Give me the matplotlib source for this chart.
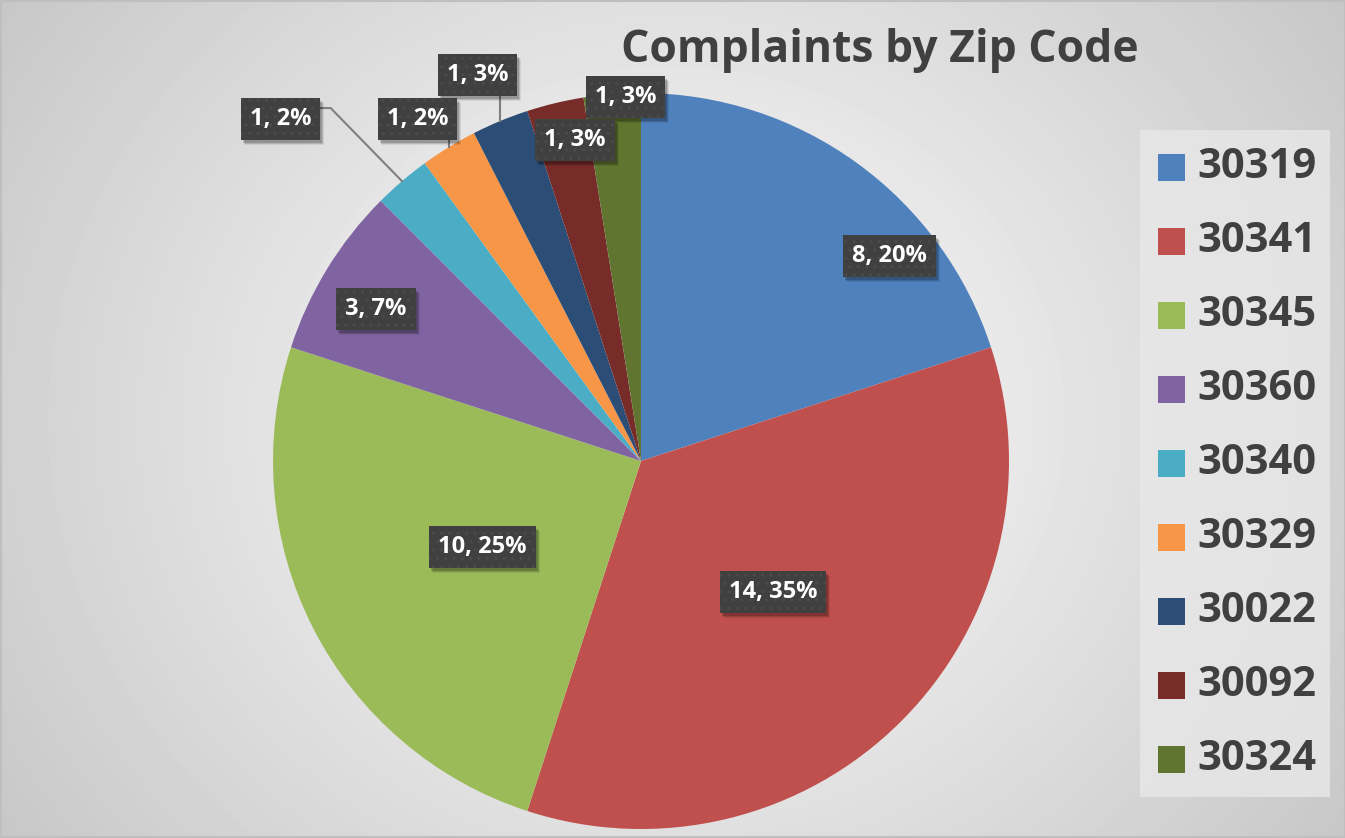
import numpy as np
import matplotlib.pyplot as plt
from matplotlib.patches import Rectangle

# data
zips = ["30319", "30341", "30345", "30360", "30340", "30329", "30022", "30092", "30324"]
counts = [8, 14, 10, 3, 1, 1, 1, 1, 1]
pct_labels = ["20%", "35%", "25%", "7%", "2%", "2%", "3%", "3%", "3%"]
colors = ["#4F81BD", "#C0504D", "#9BBB59", "#8064A2", "#4BACC6",
          "#F79646", "#2C4D75", "#772C2A", "#5F7530"]

# label layout: polar position around the pie centre (deg, fraction of radius)
label_ang = [39.5, -44.8, -151.6, 150.2, 136.5, 123.2, 112.9, 101.6, 92.4]
label_rad = [0.875, 0.505, 0.49, 0.83, 1.35, 1.11, 1.14, 0.89, 0.99]
leader = [None, None, None, None, "side", "below", "below", None, None]

W, H = 1345, 838
FONT = ["Open Sans", "DejaVu Sans"]
plt.rcParams["font.family"] = FONT

fig = plt.figure(figsize=(W / 100, H / 100), dpi=100)
ax = fig.add_axes([0, 0, 1, 1])

# radial grey background
yy, xx = np.mgrid[0:H, 0:W]
cx, cy = 672, 419
r = np.sqrt(((xx - cx) / 1.0) ** 2 + ((yy - cy) / 0.9) ** 2)
shade = 1 - 0.22 * (r / r.max())
ax.imshow(shade, cmap="gray", vmin=0, vmax=1, extent=(0, W, 0, H),
          origin="upper", zorder=0, interpolation="bilinear")

# pie
center = (641, H - 461)
R = 368
wedges, _ = ax.pie(counts, colors=colors, startangle=90, counterclock=False,
                   radius=R, center=center, frame=True,
                   wedgeprops=dict(linewidth=0))
for w in wedges:
    w.set_zorder(2)

ax.set_xlim(0, W)
ax.set_ylim(0, H)
ax.set_aspect("equal")
ax.axis("off")

# data labels
labels = []
for i, w in enumerate(wedges):
    a = np.radians(label_ang[i])
    lx = center[0] + label_rad[i] * R * np.cos(a)
    ly = center[1] + label_rad[i] * R * np.sin(a)
    txt = f"{counts[i]}, {pct_labels[i]}"

    mid = np.radians((w.theta1 + w.theta2) / 2)
    mx = center[0] + R * np.cos(mid)
    my = center[1] + R * np.sin(mid)
    if leader[i] == "side":
        ax.plot([lx + 40, lx + 50, mx], [ly + 11, ly + 11, my],
                color="#7f7f7f", lw=1.5, zorder=3)
    elif leader[i] == "below":
        ax.plot([mx, mx], [ly - 20, my], color="#7f7f7f", lw=1.5, zorder=3)

    t = ax.text(lx, ly, txt, fontsize=17, fontweight="bold", color="white",
                ha="center", va="center", zorder=5,
                bbox=dict(boxstyle="square,pad=0.38", fc="#404040", ec="#4b4b4b",
                          lw=0, hatch=".."))
    labels.append(t)

# soft drop shadow behind each label box
fig.canvas.draw()
rend = fig.canvas.get_renderer()
inv = ax.transData.inverted()
for t in labels:
    bb = t.get_bbox_patch().get_window_extent(rend)
    (x0, y0), (x1, y1) = inv.transform([(bb.x0, bb.y0), (bb.x1, bb.y1)])
    for k, al in [(5, 0.08), (4, 0.12), (3, 0.18)]:
        ax.add_patch(Rectangle((x0 + k - 1, y0 - k), x1 - x0, y1 - y0,
                               fc="black", ec="none", alpha=al, zorder=4))

# title
ax.text(880, H - 50, "Complaints by Zip Code", fontsize=32, fontweight="bold",
        color="#404040", ha="center", va="center", zorder=5)

# legend box
ax.add_patch(Rectangle((1140, H - 797), 190, 667, fc="#e8e8e8", ec="none",
                       alpha=0.8, zorder=1))
for i, z in enumerate(zips):
    y = H - (167 + 74.1 * i)
    ax.add_patch(Rectangle((1158, y - 13.5), 27, 27, fc=colors[i], ec="none", zorder=3))
    ax.text(1197, y, z, fontsize=30, fontweight="bold", color="#404040",
            ha="left", va="center", zorder=3)

# outer border
ax.add_patch(Rectangle((0.5, 0.5), W - 1, H - 1, fc="none", ec="#bfbfbf",
                       lw=1.5, zorder=6))

fig.savefig("out.png", dpi=100)
